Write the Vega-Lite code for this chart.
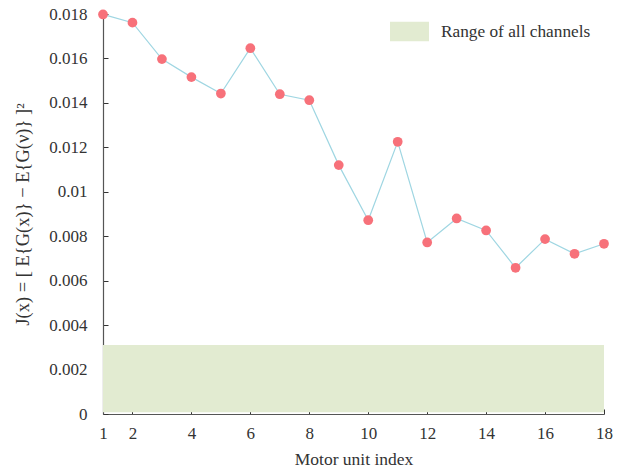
{
  "$schema": "https://vega.github.io/schema/vega-lite/v6.json",
  "width": 501,
  "height": 400,
  "autosize": {"type": "none"},
  "padding": {"left": 103, "top": 14, "right": 15, "bottom": 59},
  "background": "white",
  "config": {
    "view": {"stroke": null},
    "font": "Liberation Serif",
    "axis": {"grid": false, "labelFont": "Liberation Serif", "titleFont": "Liberation Serif", "labelFontSize": 17, "titleFontSize": 17.5, "labelColor": "#333333", "titleColor": "#333333", "titleFontWeight": "normal", "domainColor": "#555555", "tickColor": "#333333", "tickSize": -5, "domainWidth": 1.2}
  },
  "datasets": {
    "points": [
      {"mu": 1, "J": 0.01798}, {"mu": 2, "J": 0.01761}, {"mu": 3, "J": 0.01597}, {"mu": 4, "J": 0.01516},
      {"mu": 5, "J": 0.01442}, {"mu": 6, "J": 0.01646}, {"mu": 7, "J": 0.01439}, {"mu": 8, "J": 0.01412},
      {"mu": 9, "J": 0.0112}, {"mu": 10, "J": 0.00872}, {"mu": 11, "J": 0.01225}, {"mu": 12, "J": 0.00772},
      {"mu": 13, "J": 0.0088}, {"mu": 14, "J": 0.00826}, {"mu": 15, "J": 0.00658}, {"mu": 16, "J": 0.00787},
      {"mu": 17, "J": 0.00721}, {"mu": 18, "J": 0.00766}
    ],
    "band": [
      {"x1": 1, "x2": 18, "lo": 0.00008, "hi": 0.0031, "label": "Range of all channels"}
    ]
  },
  "layer": [
    {
      "data": {"name": "band"},
      "mark": {"type": "rect"},
      "encoding": {
        "x": {"field": "x1", "type": "quantitative"},
        "x2": {"field": "x2"},
        "y": {"field": "lo", "type": "quantitative"},
        "y2": {"field": "hi"},
        "color": {
          "field": "label", "type": "nominal",
          "scale": {"domain": ["Range of all channels"], "range": ["#e2ebd1"]},
          "legend": {
            "title": null, "orient": "none", "legendX": 287, "legendY": -2,
            "symbolType": "M-1,-0.5H1V0.5H-1Z", "symbolSize": 1521, "symbolStrokeWidth": 0,
            "labelFont": "Liberation Serif", "labelFontSize": 17.3, "labelColor": "#333333", "labelOffset": 12, "padding": 0
          }
        }
      }
    },
    {
      "data": {"name": "points"},
      "mark": {"type": "line", "color": "#9fd6e2", "strokeWidth": 1.2},
      "encoding": {
        "x": {
          "field": "mu", "type": "quantitative",
          "scale": {"domain": [1, 18], "nice": false, "zero": false},
          "axis": {"values": [1, 2, 4, 6, 8, 10, 12, 14, 16, 18], "title": "Motor unit index", "labelPadding": 16, "titlePadding": 9, "labelFlush": false}
        },
        "y": {
          "field": "J", "type": "quantitative",
          "scale": {"domain": [0, 0.018], "nice": false},
          "axis": {"values": [0, 0.002, 0.004, 0.006, 0.008, 0.01, 0.012, 0.014, 0.016, 0.018], "format": ".3~f", "title": "J(x)  =  [ E{G(x)}  −  E{G(ν)} ]²", "titleFont": "Liberation Serif", "titleFontSize": 18.5, "labelPadding": 21, "titlePadding": 16}
        }
      }
    },
    {
      "data": {"name": "points"},
      "mark": {"type": "point", "filled": true, "color": "#f7717a", "opacity": 1, "size": 95},
      "encoding": {
        "x": {"field": "mu", "type": "quantitative"},
        "y": {"field": "J", "type": "quantitative"}
      }
    }
  ]
}
